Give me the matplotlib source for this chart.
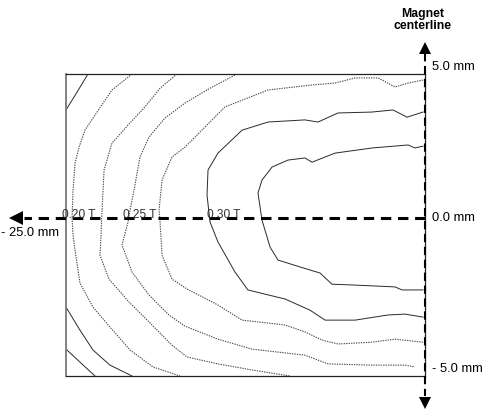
import matplotlib
matplotlib.use("Agg")
import matplotlib.pyplot as plt

plt.rcParams['font.family'] = ['Liberation Sans', 'DejaVu Sans']

# Field contour traces, x = distance from magnet centerline (mm), y = height (mm)
cA_up_x = [-23.47, -24.23, -25.00]
cA_up_y = [4.77, 4.17, 3.58]
cA_lo_x = [-25.00, -24.03, -23.12, -21.94, -20.40]
cA_lo_y = [-2.95, -3.71, -4.37, -4.87, -5.23]

cH_x = [-25.00, -24.03, -22.98]
cH_y = [-4.34, -4.77, -5.23]

cB_x = [-20.40, -21.80, -22.98, -23.68, -24.09, -24.37, -24.51, -24.58, -24.51,
        -24.37, -24.03, -23.12, -21.94, -20.54, -18.94, -17.06]
cB_y = [4.77, 4.24, 3.41, 2.91, 2.35, 1.82, 0.93, 0.00, -0.56,
        -1.06, -2.15, -2.95, -3.61, -4.37, -4.93, -5.23]

cC_x = [-17.27, -18.45, -19.50, -20.68, -21.80, -22.35, -22.49, -22.56, -22.63,
        -22.01, -20.61, -19.22, -17.62, -16.57, -14.42, -12.05, -9.40]
cC_y = [4.77, 4.30, 3.68, 3.08, 2.48, 1.59, 0.26, -0.56, -1.23,
        -2.02, -2.78, -3.44, -4.21, -4.60, -4.83, -5.03, -5.23]

cD_x = [-13.09, -14.97, -16.71, -18.11, -19.22, -19.85, -20.26, -20.54, -20.68,
        -21.10, -20.40, -19.22, -17.83, -16.71, -14.42, -12.05, -8.36, -6.75,
        -3.69, -1.39, -0.70]
cD_y = [4.77, 4.30, 3.81, 3.31, 2.68, 2.02, 0.93, 0.26, -0.13,
        -0.89, -1.79, -2.55, -3.21, -3.58, -4.01, -4.34, -4.54, -4.83,
        -4.87, -4.87, -4.93]

cE_x = [-0.14, -1.18, -2.09, -3.27, -4.87, -6.27, -8.01, -10.93, -13.93, -16.71,
        -17.62, -18.31, -18.52, -18.45, -18.31, -17.62, -16.57, -14.42, -12.74,
        -9.75, -8.36, -7.17, -6.06, -3.69, -2.09, -0.14]
cE_y = [4.57, 4.47, 4.34, 4.64, 4.64, 4.47, 4.40, 4.24, 3.68, 2.35,
        2.02, 1.26, 0.26, -0.13, -1.23, -2.02, -2.35, -2.88, -3.38,
        -3.54, -3.77, -4.04, -4.17, -4.11, -4.01, -4.11]

cF_x = [-0.14, -1.25, -2.23, -3.69, -6.06, -7.45, -8.36, -10.93, -12.74, -14.42,
        -15.11, -15.18, -14.97, -14.42, -13.23, -12.33, -11.14, -9.75, -8.01,
        -6.96, -4.87, -2.58, -1.39, -0.14]
cF_y = [3.51, 3.34, 3.58, 3.51, 3.48, 3.18, 3.25, 3.18, 2.91, 2.15,
        1.59, 0.76, -0.13, -0.79, -1.79, -2.38, -2.52, -2.68, -3.05,
        -3.38, -3.38, -3.21, -3.18, -3.28]

cG_x = [-0.14, -0.70, -1.18, -3.69, -6.27, -7.87, -8.36, -9.54, -10.65, -11.35,
        -11.63, -11.35, -10.79, -10.24, -8.70, -7.31, -6.48, -4.87, -2.09,
        -1.60, -0.14]
cG_y = [2.38, 2.32, 2.42, 2.32, 2.15, 1.85, 1.99, 1.92, 1.69, 1.26,
        0.83, -0.07, -0.96, -1.39, -1.62, -1.82, -2.19, -2.22, -2.28,
        -2.38, -2.38]

contour_labels = ["0.20 T", "0.25 T", "0.30 T"]
contour_label_x = [-25.28, -21.03, -15.18]

edge_labels = ["5.0 mm", "0.0 mm", "- 5.0 mm"]
edge_label_y = [5.0, 0.0, -5.0]

X_MIN, X_MAX = -25.0, 0.0
Y_MIN, Y_MAX = -5.23, 4.77

fig = plt.figure(figsize=(4.87, 4.17), dpi=100)
ax = fig.add_axes([66 / 487, 1 - 376 / 417, 359 / 487, 302 / 417])
ax.set_xlim(X_MIN, X_MAX)
ax.set_ylim(Y_MIN, Y_MAX)
ax.set_xticks([])
ax.set_yticks([])
for side in ("top", "bottom", "right"):
    ax.spines[side].set_color("#222222")
    ax.spines[side].set_linewidth(0.9)
ax.spines["left"].set_color("#7a7a7a")
ax.spines["left"].set_linewidth(1.3)

solid = dict(color="#2a2a2a", lw=0.7, solid_joinstyle="round")
dotted = dict(color="#4a4a4a", lw=0.8, ls=(0, (1.2, 1.0)))

ax.plot(cA_up_x, cA_up_y, **solid)
ax.plot(cA_lo_x, cA_lo_y, **solid)
ax.plot(cH_x, cH_y, **solid)
ax.plot(cB_x, cB_y, **dotted)
ax.plot(cC_x, cC_y, **dotted)
ax.plot(cD_x, cD_y, **dotted)
ax.plot(cE_x, cE_y, **dotted)
ax.plot(cF_x, cF_y, **solid)
ax.plot(cG_x, cG_y, **solid)

# Mid-plane dashed axis with arrow pointing outward
ax.plot([0.0, -27.9], [0.0, 0.0], color="black", lw=2.2,
        ls=(0, (3.4, 2.2)), clip_on=False, zorder=5)
ax.plot([-28.45], [0.0], marker="<", ms=10, color="black",
        clip_on=False, zorder=6, markeredgewidth=0)

# Magnet centerline: vertical dashed axis with arrows at both ends
ax.plot([0.0, 0.0], [5.45, -5.9], color="black", lw=1.5,
        ls=(0, (4.0, 2.2)), clip_on=False, zorder=5)
ax.plot([0.0], [5.63], marker="^", ms=9, color="black",
        clip_on=False, zorder=6, markeredgewidth=0)
ax.plot([0.0], [-6.12], marker="v", ms=9, color="black",
        clip_on=False, zorder=6, markeredgewidth=0)

for lab, lx in zip(contour_labels, contour_label_x):
    ax.text(lx, 0.0, lab, fontsize=8.6, color="#333333", ha="left",
            va="baseline", clip_on=False, zorder=7)

for lab, ly in zip(edge_labels, edge_label_y):
    ax.text(0.5, ly, lab, fontsize=9.3, color="black", ha="left",
            va="center", clip_on=False)

ax.text(-29.55, -0.48, "- 25.0 mm", fontsize=9.3, color="black", ha="left",
        va="center", clip_on=False)

fig.text(423 / 487, 1 - 20 / 417, "Magnet\ncenterline", fontsize=8.8,
         fontweight="bold", ha="center", va="center", linespacing=1.05)

fig.savefig("out.png", dpi=100)
